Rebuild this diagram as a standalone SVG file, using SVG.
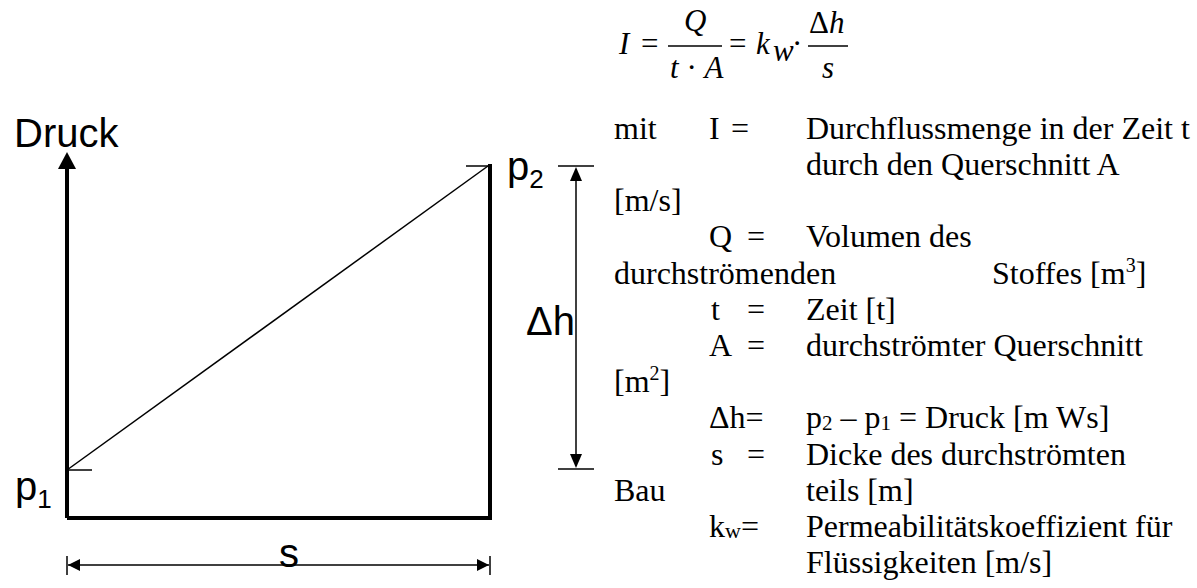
<svg xmlns="http://www.w3.org/2000/svg" width="1197" height="588" viewBox="0 0 1197 588">
<defs>
<style>
.sans{font-family:"Liberation Sans",Arial,sans-serif;font-size:40px;fill:#000}
.serif{font-family:"Liberation Serif","Times New Roman",serif;font-size:32px;fill:#000}
.math{font-family:"Liberation Serif","Times New Roman",serif;font-size:31px;fill:#000}
.it{font-style:italic}
.thick{stroke:#000;stroke-width:4;fill:none}
.thin{stroke:#000;stroke-width:1.5;fill:none}
</style>
</defs>
<rect width="1197" height="588" fill="#fff"/>

<g id="formula">
<text class="math it" x="619" y="54">I</text>
<text class="math" x="641" y="54">=</text>
<line x1="668" y1="46" x2="722" y2="46" class="thin"/>
<text class="math it" x="684" y="31">Q</text>
<text class="math" x="670" y="78"><tspan class="it">t</tspan> · <tspan class="it">A</tspan></text>
<text class="math" x="729" y="54">=</text>
<text class="math it" x="756" y="54">k</text>
<text class="math it" x="773" y="61" font-size="19">w</text>
<text class="math" x="792" y="54">·</text>
<line x1="808" y1="46" x2="848" y2="46" class="thin"/>
<text class="math" x="809" y="33">Δ<tspan class="it">h</tspan></text>
<text class="math it" x="822" y="78">s</text>
</g>

<g id="chart">
<text class="sans" x="14" y="147" font-size="42">Druck</text>
<text class="sans" x="15" y="500">p<tspan font-size="26" dy="8">1</tspan></text>
<text class="sans" x="507" y="180">p<tspan font-size="26" dy="8">2</tspan></text>
<text class="sans" x="526" y="335">Δh</text>
<text class="sans" x="279" y="567">s</text>
</g>

<g id="connectors">
<line x1="67" y1="518" x2="67" y2="166" class="thick"/>
<path d="M67,152 L58,169 L76,169 z" fill="#000"/>
<polyline points="67,518 490,518 490,164" class="thick"/>
<line x1="67" y1="470" x2="488" y2="166" class="thin"/>
<line x1="67" y1="470" x2="92" y2="470" class="thin"/>
<line x1="466" y1="166" x2="490" y2="166" class="thin"/>
<line x1="558" y1="166" x2="594" y2="166" class="thin"/>
<line x1="558" y1="469" x2="594" y2="469" class="thin"/>
<line x1="576" y1="180" x2="576" y2="455" class="thin"/>
<path d="M576,167 L570,181 L582,181 z" fill="#000"/>
<path d="M576,468 L570,454 L582,454 z" fill="#000"/>
<line x1="67" y1="556" x2="67" y2="575" class="thin"/>
<line x1="490" y1="556" x2="490" y2="575" class="thin"/>
<line x1="68" y1="565" x2="489" y2="565" class="thin"/>
<path d="M68,565 L80,559 L80,571 z" fill="#000"/>
<path d="M489,565 L477,559 L477,571 z" fill="#000"/>
</g>

<g id="legend">
<text class="serif" x="614" y="139">mit</text>
<text class="serif" x="709" y="139">I</text>
<text class="serif" x="731" y="139">=</text>
<text class="serif" x="806" y="139">Durchflussmenge in der Zeit t</text>
<text class="serif" x="806" y="175">durch den Querschnitt A</text>
<text class="serif" x="614" y="211">[m/s]</text>
<text class="serif" x="709" y="247">Q</text>
<text class="serif" x="747" y="247">=</text>
<text class="serif" x="806" y="247">Volumen des</text>
<text class="serif" x="614" y="284">durchströmenden</text>
<text class="serif" x="992" y="284">Stoffes [m<tspan font-size="20" dy="-12">3</tspan><tspan dy="12">]</tspan></text>
<text class="serif" x="711" y="320">t</text>
<text class="serif" x="747" y="320">=</text>
<text class="serif" x="806" y="320">Zeit [t]</text>
<text class="serif" x="709" y="356">A</text>
<text class="serif" x="747" y="356">=</text>
<text class="serif" x="806" y="356">durchströmter Querschnitt</text>
<text class="serif" x="614" y="392">[m<tspan font-size="20" dy="-12">2</tspan><tspan dy="12">]</tspan></text>
<text class="serif" x="709" y="428">Δh=</text>
<text class="serif" x="806" y="428">p<tspan font-size="21" dy="2">2</tspan><tspan dy="-2"> – p</tspan><tspan font-size="21" dy="2">1</tspan><tspan dy="-2"> = Druck [m Ws]</tspan></text>
<text class="serif" x="711" y="465">s</text>
<text class="serif" x="747" y="465">=</text>
<text class="serif" x="806" y="465">Dicke des durchströmten</text>
<text class="serif" x="614" y="501">Bau</text>
<text class="serif" x="806" y="501">teils [m]</text>
<text class="serif" x="709" y="537">k<tspan font-size="22" dy="1">w</tspan><tspan dy="-1">=</tspan></text>
<text class="serif" x="806" y="537">Permeabilitätskoeffizient für</text>
<text class="serif" x="806" y="573">Flüssigkeiten [m/s]</text>
</g>
</svg>
